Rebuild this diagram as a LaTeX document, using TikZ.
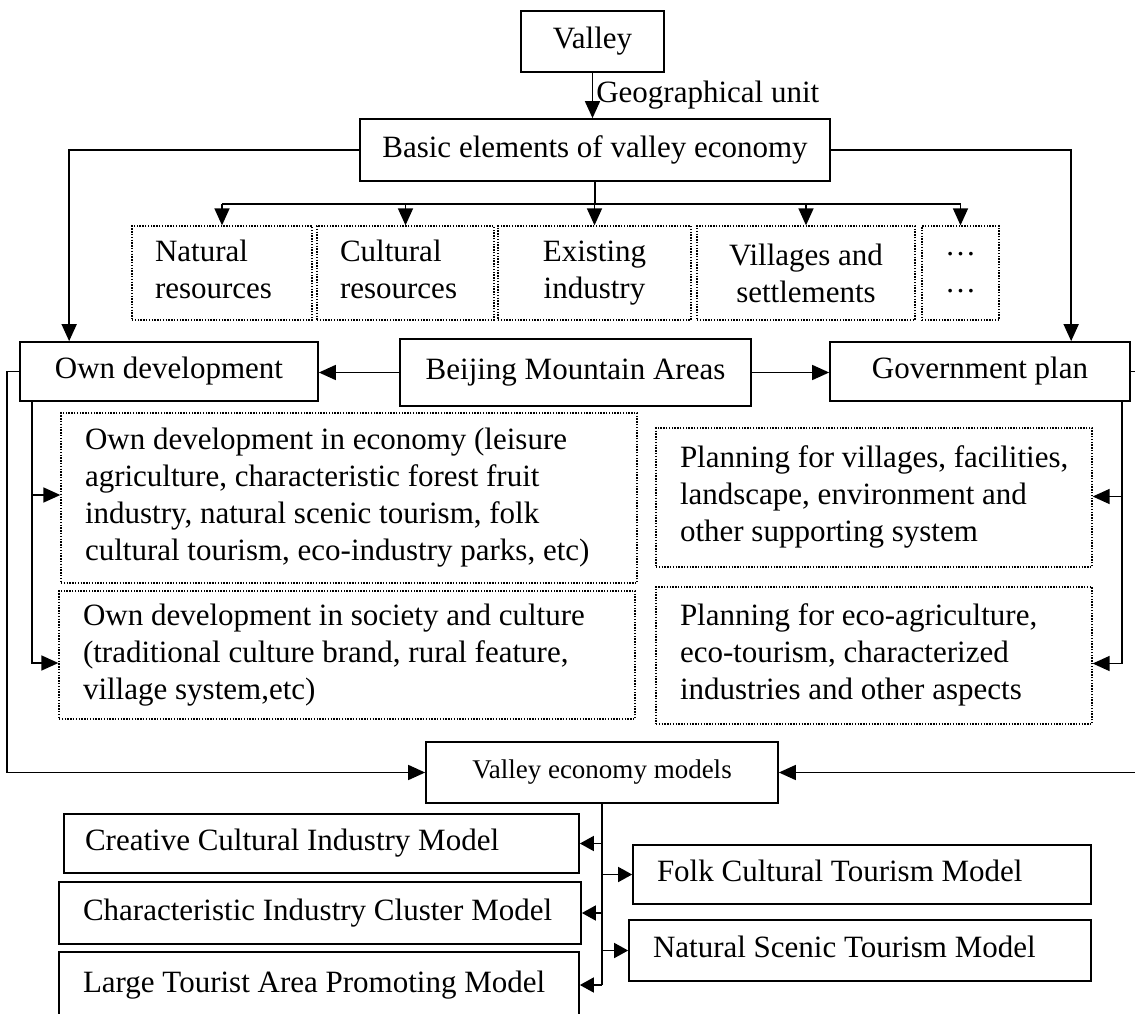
\documentclass[tikz,border=0pt]{standalone}
\usepackage{fontspec}
\setmainfont{Liberation Serif}
\usetikzlibrary{arrows.meta,calc}
\newcommand\leftblock[2]{\makebox[#1][l]{\begin{tabular}{@{}l@{}}#2\end{tabular}}}
\begin{document}
\begin{tikzpicture}[x=1pt,y=-1pt,
  txt/.style={font=\fontsize{31}{37}\selectfont},
  box/.style={txt, draw, line width=1.7pt, inner sep=0pt},
  dbox/.style={txt, draw, line width=1.3pt, dash pattern=on 1.4pt off 1.4pt, inner sep=0pt},
  conn/.style={line width=1.6pt},
  arr/.style={conn, -{Triangle[length=17pt,width=15pt]}},
  sarr/.style={conn, -{Triangle[length=14pt,width=15pt]}},
]
\useasboundingbox (0,0) rectangle (1135,1014);
\clip (0,0) rectangle (1135,1014);

% top
\node[box, minimum width=143pt, minimum height=61pt] (valley) at (592.5,41.5) {Valley};
\node[box, minimum width=470pt, minimum height=62pt] (basic) at (595,150) {Basic elements of valley economy};

% elements
\node[dbox, minimum height=94pt, inner xsep=23pt] (nat) at (222,273) {\leftblock{134pt}{Natural\\resources}};
\node[dbox, minimum height=94pt, inner xsep=23pt] (cul) at (405.5,273) {\leftblock{131pt}{Cultural\\resources}};
\node[dbox, minimum width=193pt, minimum height=94pt, align=center] (exi) at (594.5,273) {Existing\\industry};
\node[dbox, minimum width=218pt, minimum height=94pt, align=center] (vil) at (806,273) {Villages and\\settlements};
\node[dbox, minimum width=77pt, minimum height=94pt, align=center] (dots) at (960.5,273) {…\\…};

% middle row
\node[box, minimum width=298pt, minimum height=59pt] (own) at (169,371.5) {Own development};
\node[box, minimum width=351pt, minimum height=67pt] (beij) at (575.5,372.5) {Beijing Mountain Areas};
\node[box, minimum width=300pt, minimum height=59pt] (gov) at (980,371.5) {Government plan};

% detail boxes
\node[dbox, minimum height=170pt, inner xsep=24pt] (econ) at (349,498) {\leftblock{528pt}{Own development in economy (leisure\\agriculture, characteristic forest fruit\\industry, natural scenic tourism, folk\\cultural tourism, eco-industry parks, etc)}};
\node[dbox, minimum height=128pt, inner xsep=24pt] (soc) at (347,655) {\leftblock{528pt}{Own development in society and culture\\(traditional culture brand, rural feature,\\village system,etc)}};
\node[dbox, minimum height=139pt, inner xsep=24pt] (plan1) at (874,497.5) {\leftblock{388pt}{Planning for villages, facilities,\\landscape, environment and\\other supporting system}};
\node[dbox, minimum height=137pt, inner xsep=24pt] (plan2) at (874,655.5) {\leftblock{388pt}{Planning for eco-agriculture,\\eco-tourism, characterized\\industries and other aspects}};

% models
\node[box, font=\fontsize{27}{32}\selectfont, minimum width=352pt, minimum height=61pt] (vem) at (602,772.5) {Valley economy models};
\node[box, minimum height=59pt, inner xsep=21pt] (creative) at (321.5,843.5) {\leftblock{473pt}{Creative Cultural Industry Model}};
\node[box, minimum height=62pt, inner xsep=24pt] (charac) at (320,913) {\leftblock{474pt}{Characteristic Industry Cluster Model}};
\node[box, minimum height=66pt, inner xsep=24pt] (large) at (319,985) {\leftblock{472pt}{Large Tourist Area Promoting Model}};
\node[box, minimum height=59pt, inner xsep=24pt] (folk) at (862,874.5) {\leftblock{410pt}{Folk Cultural Tourism Model}};
\node[box, minimum height=61pt, inner xsep=24pt] (natsc) at (860,950.5) {\leftblock{414pt}{Natural Scenic Tourism Model}};

% connectors
\draw[arr] (valley.south) -- (valley.south |- basic.north)
  node[midway, anchor=west, inner xsep=3pt, txt] (geo) {Geographical unit};
\coordinate (bus) at ($(basic.south)+(0,22)$);
\draw[conn] (basic.south) -- (bus);
\draw[conn] (bus -| nat.north) -- (bus -| dots.north);
\foreach \n in {nat,cul,exi,vil,dots} \draw[arr] (bus -| \n.north) -- (\n.north);

\draw[arr] (basic.west) -| ($(own.north west)+(50,0)$);
\draw[arr] (basic.east) -| ($(gov.north west)+(242,0)$);
\draw[arr] (beij.west) -- (beij.west -| own.east);
\draw[arr] (beij.east) -- (beij.east -| gov.west);

\draw[arr] (own.west) -- ++(-12,0) |- (vem.west);
\draw[arr] (gov.east) -- ++(20,0) |- (vem.east);

\coordinate (ol) at ($(own.south west)+(13,0)$);
\draw[arr] (ol) |- ($(econ.west)+(0,-3)$);
\draw[arr] (ol) |- ($(soc.west)+(0,8)$);
\coordinate (gr) at ($(gov.south east)+(-9,0)$);
\draw[arr] (gr) |- ($(plan1.east)+(0,-1)$);
\draw[arr] (gr) |- ($(plan2.east)+(0,8)$);

\draw[conn] (vem.south) -- (vem.south |- large.east);
\foreach \n in {creative,charac,large} \draw[sarr] (vem.south |- \n.east) -- (\n.east);
\foreach \n in {folk,natsc} \draw[sarr] (vem.south |- \n.west) -- (\n.west);
\end{tikzpicture}
\end{document}
